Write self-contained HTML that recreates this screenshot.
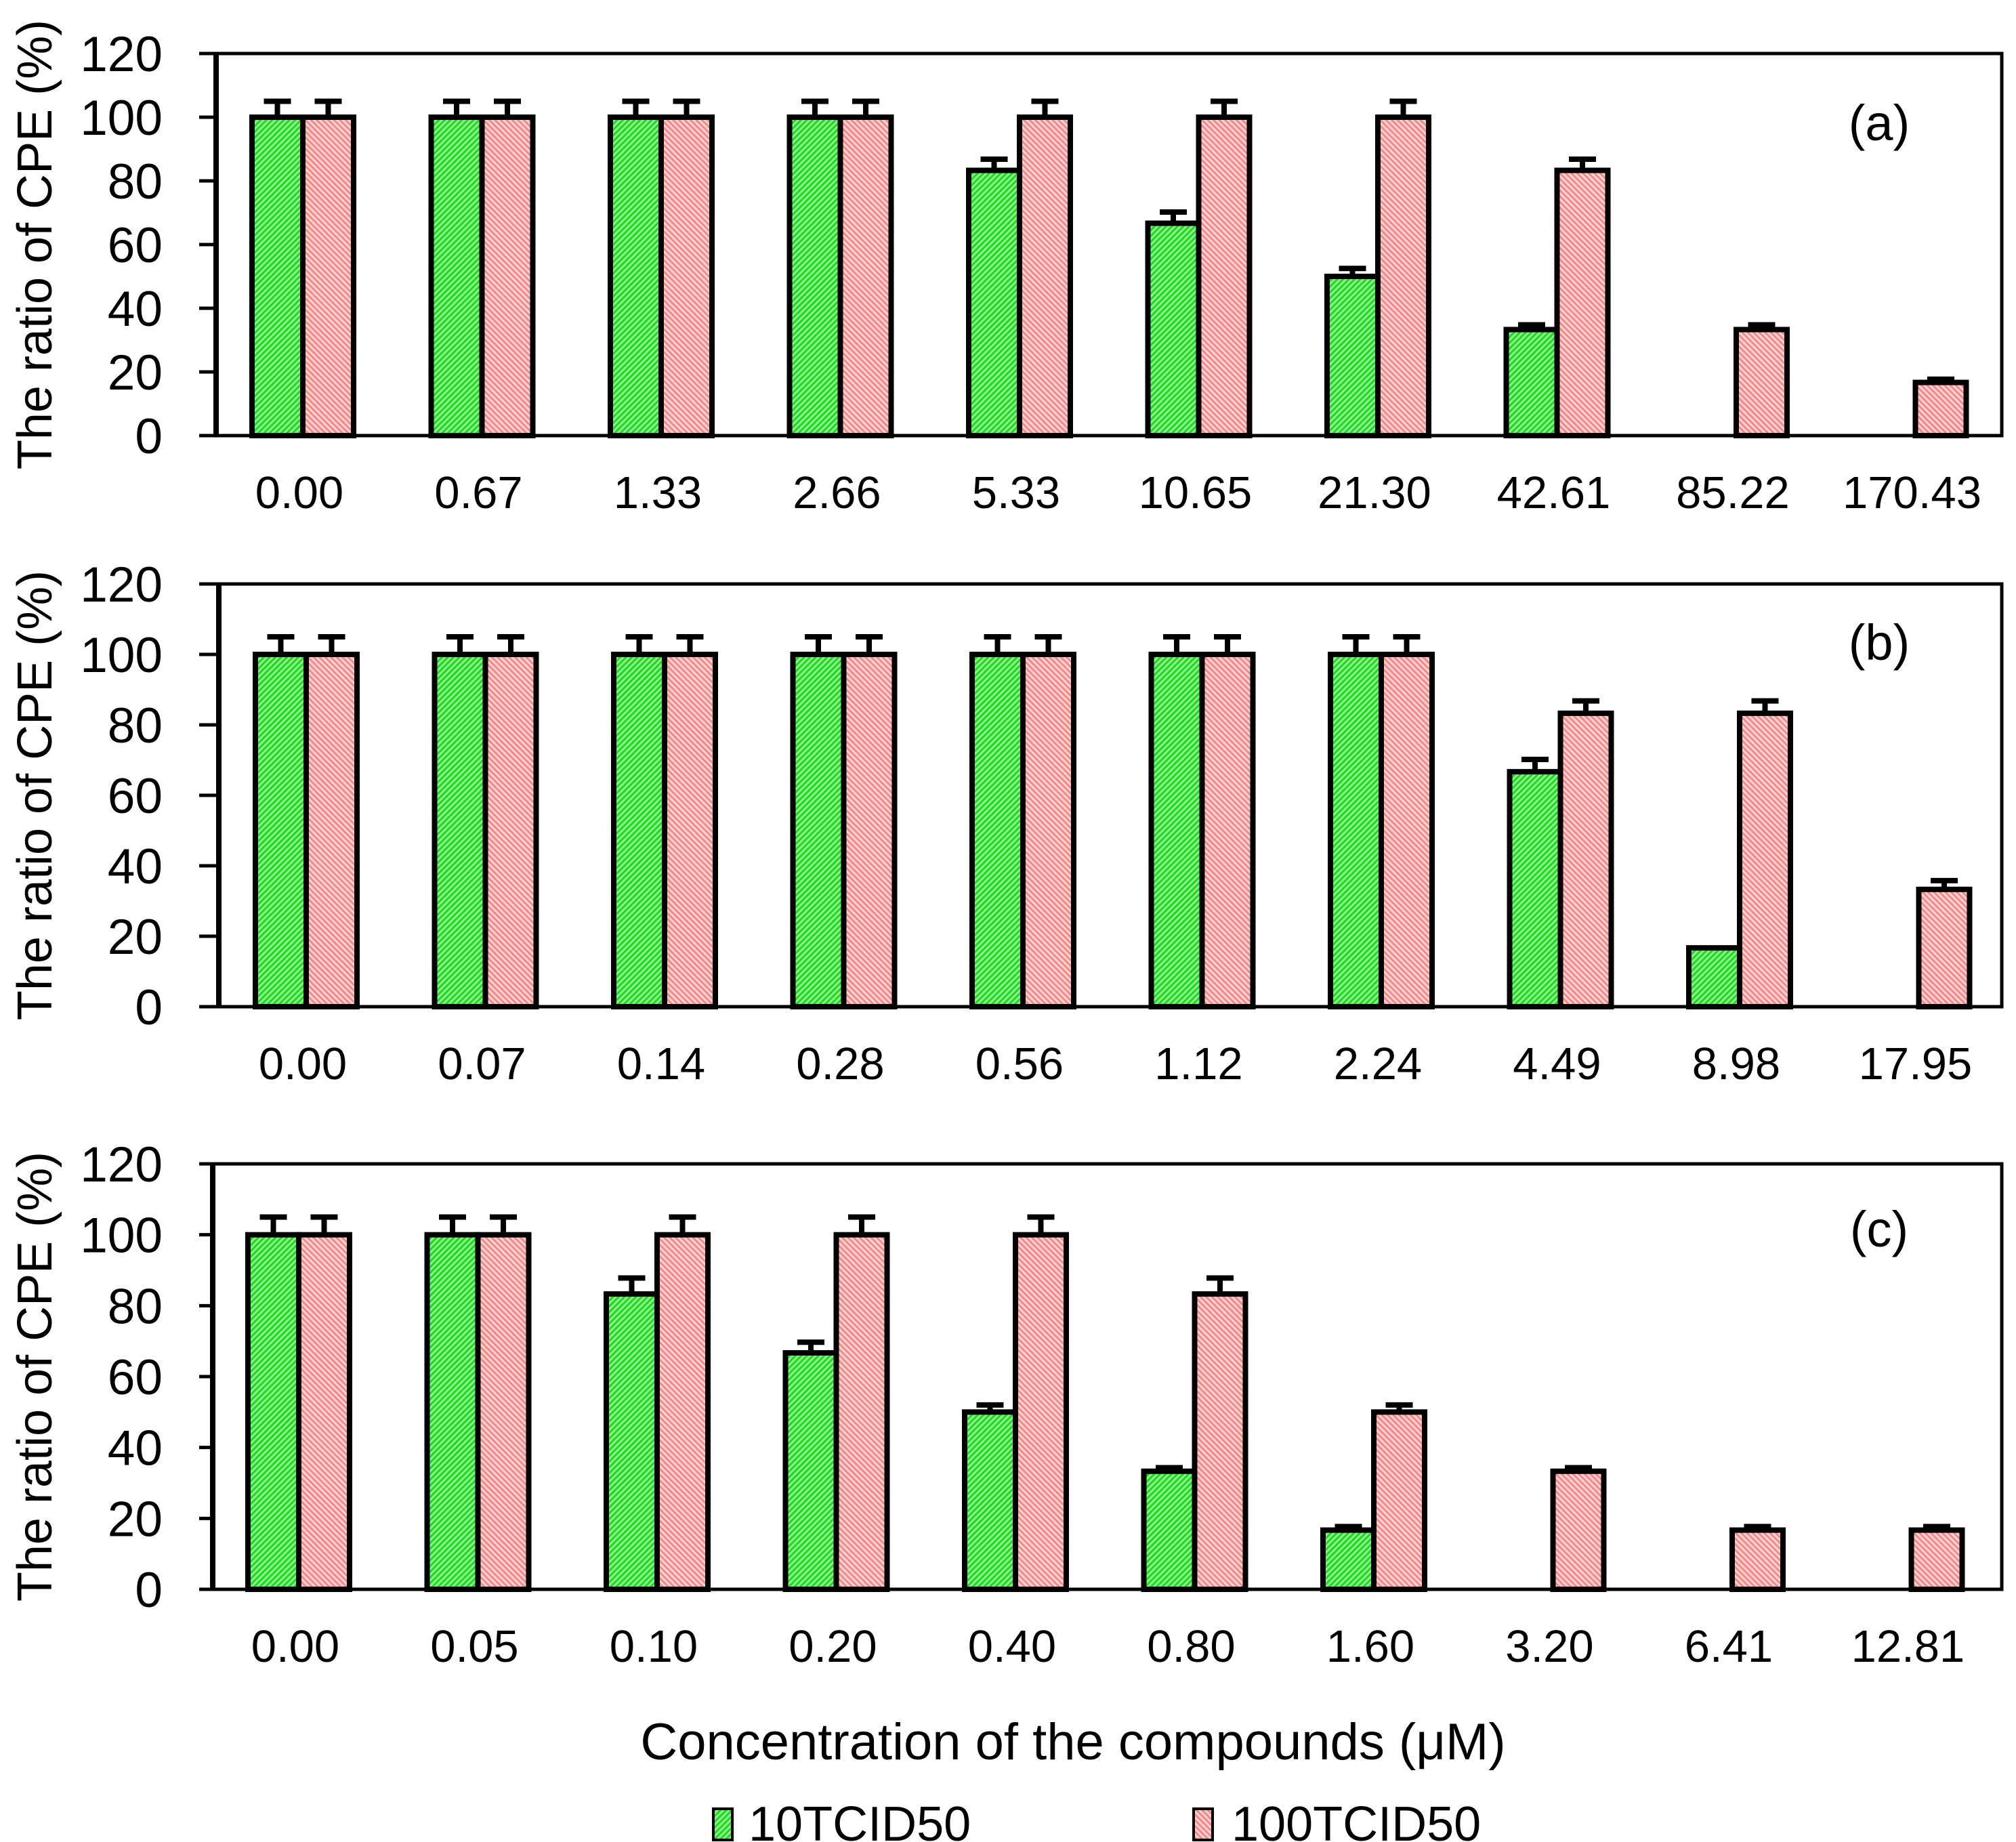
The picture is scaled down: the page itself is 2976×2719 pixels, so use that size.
<!DOCTYPE html>
<html><head><meta charset="utf-8"><style>
html,body{margin:0;padding:0;background:#fff}
svg{display:block;font-family:"Liberation Sans",sans-serif}
</style></head><body>
<svg id="chart" width="2976" height="2719" viewBox="0 0 2976 2719" xmlns="http://www.w3.org/2000/svg">
<defs>
<pattern id="pg" patternUnits="userSpaceOnUse" width="6" height="6" patternTransform="rotate(45)"><rect width="6" height="6" fill="#8ef08e"/><rect width="3" height="6" fill="#1fd81f"/></pattern>
<pattern id="pr" patternUnits="userSpaceOnUse" width="6" height="6" patternTransform="rotate(-45)"><rect width="6" height="6" fill="#fcd2d2"/><rect width="3" height="6" fill="#f08a8a"/></pattern>
</defs>
<g id="root"></g>
</svg>
<script>
const labelsA=["0.00","0.67","1.33","2.66","5.33","10.65","21.30","42.61","85.22","170.43"];
const greenA=[100,100,100,100,83.3,66.7,50,33.3,0,0];
const redA=[100,100,100,100,100,100,100,83.3,33.3,16.7];
const gErrA=[5,5,5,5,3.5,3.5,2.5,1.5,0,0];
const rErrA=[5,5,5,5,5,5,5,3.5,1.5,1];
const labelsB=["0.00","0.07","0.14","0.28","0.56","1.12","2.24","4.49","8.98","17.95"];
const greenB=[100,100,100,100,100,100,100,66.7,16.7,0];
const redB=[100,100,100,100,100,100,100,83.3,83.3,33.3];
const gErrB=[5,5,5,5,5,5,5,3.5,0,0];
const rErrB=[5,5,5,5,5,5,5,3.5,3.5,2.5];
const labelsC=["0.00","0.05","0.10","0.20","0.40","0.80","1.60","3.20","6.41","12.81"];
const greenC=[100,100,83.3,66.7,50,33.3,16.7,0,0,0];
const redC=[100,100,100,100,100,83.3,50,33.3,16.7,16.7];
const gErrC=[5,5,4.5,3,2,1,1,0,0,0];
const rErrC=[5,5,5,5,5,4.5,2,1,1,1];
const yTicks=[0,20,40,60,80,100,120];

const NS="http://www.w3.org/2000/svg";
const root=document.getElementById('root');
function mk(tag,attrs,parent,text){const e=document.createElementNS(NS,tag);for(const k in attrs)e.setAttribute(k,attrs[k]);if(text!==undefined)e.textContent=text;(parent||root).appendChild(e);return e;}

const panels=[
 {id:'a',L:labelsA,g:greenA,r:redA,ge:gErrA,re:rErrA,top:79,bot:643,axis:319,c0:447,tag:'(a)',tagY:207},
 {id:'b',L:labelsB,g:greenB,r:redB,ge:gErrB,re:rErrB,top:862,bot:1486,axis:323,c0:452,tag:'(b)',tagY:974},
 {id:'c',L:labelsC,g:greenC,r:redC,ge:gErrC,re:rErrC,top:1718,bot:2346,axis:314,c0:441,tag:'(c)',tagY:1840}
];
const right=2955, step=264.5, bw=75;
panels.forEach(p=>{
 const G=mk('g',{});
 
 
 const y=v=>p.bot-(v/120)*(p.bot-p.top);
 const x=i=>p.c0+i*step;
 const frame=mk('rect',{x:p.axis,y:p.top,width:right-p.axis,height:p.bot-p.top,fill:'none',stroke:'#000','stroke-width':5},G);
 
 
 mk('line',{x1:p.axis,y1:p.top,x2:p.axis,y2:p.bot,stroke:'#000','stroke-width':8},G);
 yTicks.forEach(t=>{
  const tk=mk('line',{x1:294,y1:y(t),x2:p.axis,y2:y(t),stroke:'#000','stroke-width':5},G);
  
  
  const tl=mk('text',{x:240,y:y(t)+26,'text-anchor':'end','font-size':73},G,String(t));
  
  
 });
 p.L.forEach((lab,i)=>{
  const xl=mk('text',{x:x(i)-5,y:p.bot+107,'text-anchor':'middle','font-size':67},G,lab);
  
  
  [[p.g[i],p.ge[i],x(i)-bw,'url(#pg)','bar-10tcid50'],[p.r[i],p.re[i],x(i),'url(#pr)','bar-100tcid50']].forEach(([v,e,bx,fill,nm])=>{
   if(v<=0)return;
   const cx=bx+bw/2;
   if(e>0){
    mk('line',{x1:cx,y1:y(v),x2:cx,y2:y(v+e),stroke:'#000','stroke-width':8},G);
    mk('line',{x1:cx-20,y1:y(v+e),x2:cx+20,y2:y(v+e),stroke:'#000','stroke-width':8},G);
   }
   const b=mk('rect',{x:bx,y:y(v),width:bw,height:p.bot-y(v),fill:fill,stroke:'#000','stroke-width':8},G);
   
   
  });
 });
 const yt=mk('text',{x:0,y:0,'text-anchor':'middle','font-size':72,transform:`translate(76,${(p.top+p.bot)/2}) rotate(-90)`},G,'The ratio of CPE (%)');
 
 
 const tg=mk('text',{x:2774,y:p.tagY,'text-anchor':'middle','font-size':74},G,p.tag);
 
 
});
const xt=mk('text',{x:1584,y:2597,'text-anchor':'middle','font-size':76},root,'Concentration of the compounds (μM)');


const lg=mk('g',{});


const e1=mk('rect',{x:1053,y:2670,width:28,height:46,fill:'url(#pg)',stroke:'#000','stroke-width':4},lg);


const t1=mk('text',{x:1105,y:2717,'font-size':72},lg,'10TCID50');


const e2=mk('rect',{x:1762,y:2670,width:28,height:46,fill:'url(#pr)',stroke:'#000','stroke-width':4},lg);


const t2=mk('text',{x:1818,y:2717,'font-size':72},lg,'100TCID50');


</script>
</body></html>
